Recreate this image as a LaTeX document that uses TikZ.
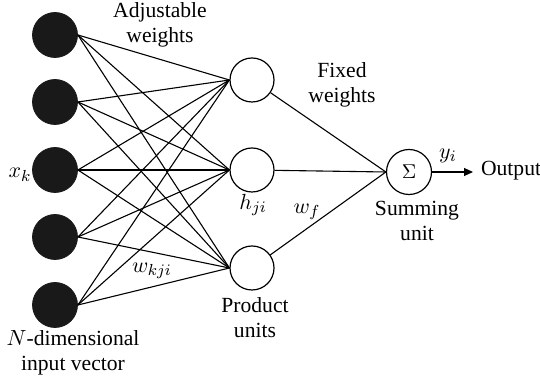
\documentclass[tikz,border=0pt]{standalone}
\usepackage{fontspec}
\setmainfont{Liberation Serif}
\usepackage{tikz}
\usetikzlibrary{arrows.meta,positioning}
\tikzset{
  inunit/.style={circle, fill=black!90, draw=black!90, minimum size=22.5pt, inner sep=0pt},
  produnit/.style={circle, draw, line width=0.6pt, minimum size=22pt, inner sep=0pt},
  lbl/.style={font=\fontsize{10.8}{12.5}\selectfont, align=center},
  link/.style={line width=0.55pt}
}
\begin{document}
\begin{tikzpicture}[x=0.5pt,y=-0.5pt]
\useasboundingbox (0,0) rectangle (540,383);
% input vector
\foreach \i/\y in {1/35,2/102,3/170,4/237,5/305} {
  \node[inunit] (in\i) at (55,\y) {};
}
% product units
\foreach \j/\y in {1/80,2/170,3/268} {
  \node[produnit] (pu\j) at (252,\y) {};
}
% summing unit
\node[produnit, minimum size=22.5pt, font=\fontsize{10}{12}\selectfont] (sum) at (409,172) {$\Sigma$};
\coordinate (out) at (473,172);
% adjustable weights
\foreach \i in {1,...,5} {
  \foreach \j in {1,2,3} {
    \draw[link] (in\i.east) -- (pu\j.west);
  }
}
% fixed weights
\foreach \j in {1,2,3} {
  \draw[link] (pu\j) -- (sum.west);
}
\draw[link, -{Triangle[length=4.5pt,width=4pt]}] (sum.east) -- (out);
% labels
\node[lbl] (adjlbl) at (160,25) {Adjustable\\weights};
\node[lbl] (fixlbl) at (342,85) {Fixed\\weights};
\node[lbl] (xk) at (20,175) {$x_k$};
\node[lbl] (hji) at (253,205) {$h_{ji}$};
\node[lbl] (wf) at (307,212) {$w_f$};
\node[lbl] (wkji) at (152,271) {$w_{kji}$};
\node[lbl] (prodlbl) at (255,318) {Product\\units};
\node[lbl] (sumlbl) at (417,221) {Summing\\unit};
\node[lbl] (yi) at (448,156) {$y_i$};
\node[lbl, anchor=west] (outlbl) at (474,171) {Output};
\node[lbl] (inlbl) at (73,353) {$N$-dimensional\\input vector};
\end{tikzpicture}
\end{document}
